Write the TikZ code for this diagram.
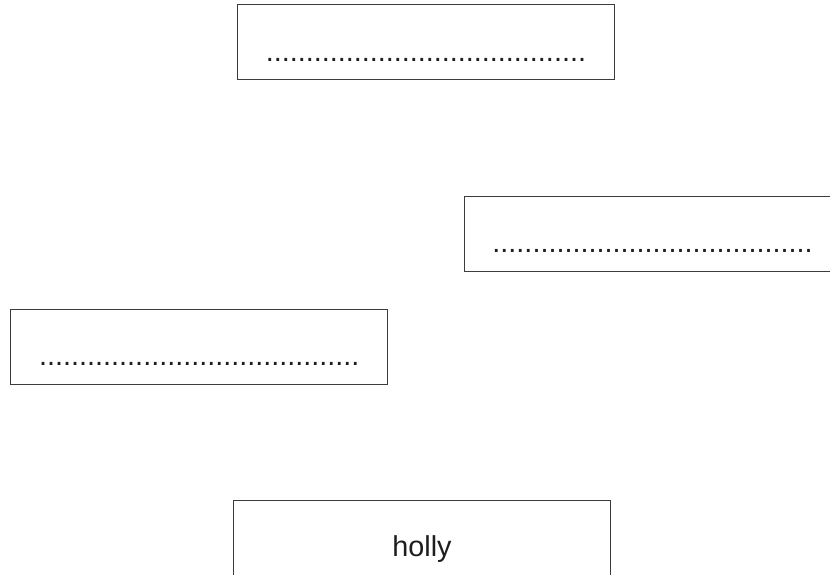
\documentclass[tikz,border=0pt]{standalone}
\usepackage{fontspec}
\setmainfont{Liberation Sans}
\usetikzlibrary{positioning}
\definecolor{cardLine}{RGB}{60,60,60}
\definecolor{cardText}{RGB}{30,30,30}
\tikzset{
  cardbox/.style={
    draw=cardLine,
    line width=1pt,
    fill=white,
    align=center,
    minimum width=377pt,
    inner xsep=0pt,
    inner ysep=0pt,
    text height=56.5pt,
    text depth=18.5pt,
    text=cardText,
    font=\fontsize{28.8}{34}\selectfont
  }
}

\begin{document}
\begin{tikzpicture}[x=1pt, y=-1pt]
  \clip (0,0) rectangle (830,574);
  \fill[white] (0,0) rectangle (830,574);

  \node[cardbox] (top) at (425.8,42.2)
    {........................................};
  \node[cardbox] (right) at (652.5,233.5)
    {........................................};
  \node[cardbox] (left) at (199.2,346.8)
    {........................................};
  \node[cardbox] (holly) at (422,537.5)
    {holly};
\end{tikzpicture}
\end{document}
